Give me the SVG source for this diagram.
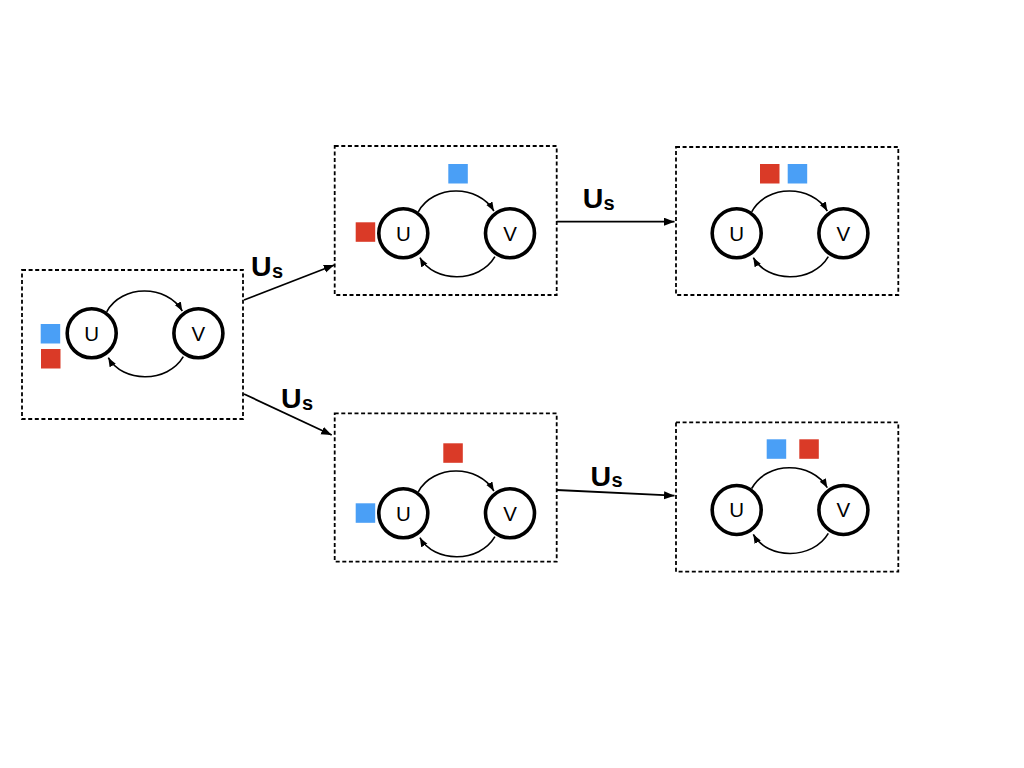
<svg xmlns="http://www.w3.org/2000/svg" width="1024" height="768" viewBox="0 0 1024 768">
  <style>
    .box { fill: none; stroke: #000; stroke-width: 1.8; stroke-dasharray: 4 2.6; }
    .node { fill: #fff; stroke: #000; stroke-width: 3.6; }
    .nlabel { font-family: "Liberation Sans", Arial, sans-serif; font-size: 20.5px; fill: #000; text-anchor: middle; }
    .arc { fill: none; stroke: #000; stroke-width: 1.6; marker-end: url(#smallHead); }
    .conn { fill: none; stroke: #000; stroke-width: 1.8; marker-end: url(#bigHead); }
    .elabel { font-family: "Liberation Sans", Arial, sans-serif; font-weight: bold; font-size: 28.5px; fill: #000; }
    .sub { font-size: 20px; }
    .blue { fill: #4A9FF6; }
    .red { fill: #DA3A27; }
  </style>
  <defs>
    <marker id="smallHead" markerUnits="userSpaceOnUse" markerWidth="9" markerHeight="8" refX="9" refY="3.5" orient="auto">
      <path d="M0,0 L9,3.5 L0,7 z" fill="#000"/>
    </marker>
    <marker id="bigHead" markerUnits="userSpaceOnUse" markerWidth="11" markerHeight="9" refX="10.5" refY="4" orient="auto">
      <path d="M0,0 L10.5,4 L0,8 z" fill="#000"/>
    </marker>
  </defs>
  <rect width="1024" height="768" fill="#fff"/>

  <!-- State 1 -->
  <g id="state1">
    <rect class="box" x="22" y="270" width="221" height="149"/>
    <rect class="blue" x="40.7" y="324" width="19.5" height="19.5"/>
    <rect class="red" x="41" y="349" width="19.5" height="19.5"/>
    <g transform="translate(91.7,333.3)">
      <path class="arc" d="M15,-21.5 C30,-49 75,-49 90.6,-22.3"/>
      <path class="arc" d="M91.6,23.4 C76,50 31,50 16.6,24.4"/>
      <g id="s1-U"><circle class="node" cx="0" cy="0" r="24.5"/><text class="nlabel" x="0" y="7.4">U</text></g>
      <g id="s1-V"><circle class="node" cx="106.7" cy="0" r="24.5"/><text class="nlabel" x="106.7" y="7.4">V</text></g>
    </g>
  </g>

  <!-- State 2 -->
  <g id="state2">
    <rect class="box" x="334.7" y="146" width="222" height="149"/>
    <rect class="blue" x="448.3" y="164" width="19.5" height="19.5"/>
    <rect class="red" x="355.7" y="222.3" width="19.5" height="19.5"/>
    <g transform="translate(403.3,233.3)">
      <path class="arc" d="M15,-21.5 C30,-49 75,-49 90.6,-22.3"/>
      <path class="arc" d="M91.6,23.4 C76,50 31,50 16.6,24.4"/>
      <g id="s2-U"><circle class="node" cx="0" cy="0" r="24.5"/><text class="nlabel" x="0" y="7.4">U</text></g>
      <g id="s2-V"><circle class="node" cx="106.7" cy="0" r="24.5"/><text class="nlabel" x="106.7" y="7.4">V</text></g>
    </g>
  </g>

  <!-- State 3 -->
  <g id="state3">
    <rect class="box" x="676" y="147" width="222.3" height="148"/>
    <rect class="red" x="760" y="164" width="19.5" height="19.5"/>
    <rect class="blue" x="787.7" y="164" width="19.5" height="19.5"/>
    <g transform="translate(736.7,233.3)">
      <path class="arc" d="M15,-21.5 C30,-49 75,-49 90.6,-22.3"/>
      <path class="arc" d="M91.6,23.4 C76,50 31,50 16.6,24.4"/>
      <g id="s3-U"><circle class="node" cx="0" cy="0" r="24.5"/><text class="nlabel" x="0" y="7.4">U</text></g>
      <g id="s3-V"><circle class="node" cx="106.7" cy="0" r="24.5"/><text class="nlabel" x="106.7" y="7.4">V</text></g>
    </g>
  </g>

  <!-- State 4 -->
  <g id="state4">
    <rect class="box" x="334.7" y="413.3" width="222" height="148.4"/>
    <rect class="red" x="443.3" y="443.3" width="19.5" height="19.5"/>
    <rect class="blue" x="355.7" y="503.3" width="19.5" height="19.5"/>
    <g transform="translate(403.3,513.3)">
      <path class="arc" d="M15,-21.5 C30,-49 75,-49 90.6,-22.3"/>
      <path class="arc" d="M91.6,23.4 C76,50 31,50 16.6,24.4"/>
      <g id="s4-U"><circle class="node" cx="0" cy="0" r="24.5"/><text class="nlabel" x="0" y="7.4">U</text></g>
      <g id="s4-V"><circle class="node" cx="106.7" cy="0" r="24.5"/><text class="nlabel" x="106.7" y="7.4">V</text></g>
    </g>
  </g>

  <!-- State 5 -->
  <g id="state5">
    <rect class="box" x="676" y="422.3" width="222.3" height="149.4"/>
    <rect class="blue" x="766.7" y="439.3" width="19.5" height="19.5"/>
    <rect class="red" x="799.3" y="439.3" width="19.5" height="19.5"/>
    <g transform="translate(736.7,510)">
      <path class="arc" d="M15,-21.5 C30,-49 75,-49 90.6,-22.3"/>
      <path class="arc" d="M91.6,23.4 C76,50 31,50 16.6,24.4"/>
      <g id="s5-U"><circle class="node" cx="0" cy="0" r="24.5"/><text class="nlabel" x="0" y="7.4">U</text></g>
      <g id="s5-V"><circle class="node" cx="106.7" cy="0" r="24.5"/><text class="nlabel" x="106.7" y="7.4">V</text></g>
    </g>
  </g>

  <!-- Connectors -->
  <g id="connectors">
    <path class="conn" d="M244,300 L334.3,265"/>
    <path class="conn" d="M244,394 L331.7,435"/>
    <path class="conn" d="M556.7,221.7 L674.5,221.7"/>
    <path class="conn" d="M556.7,490 L674.5,495.7"/>
    <text class="elabel" x="251" y="276">U<tspan class="sub" dx="0.3" dy="2">s</tspan></text>
    <text class="elabel" x="281" y="408.3">U<tspan class="sub" dx="0.3" dy="1.5">s</tspan></text>
    <text class="elabel" x="582.7" y="208.3">U<tspan class="sub" dx="0.3" dy="1.8">s</tspan></text>
    <text class="elabel" x="590.5" y="485.7">U<tspan class="sub" dx="0.3" dy="1.2">s</tspan></text>
  </g>
</svg>
